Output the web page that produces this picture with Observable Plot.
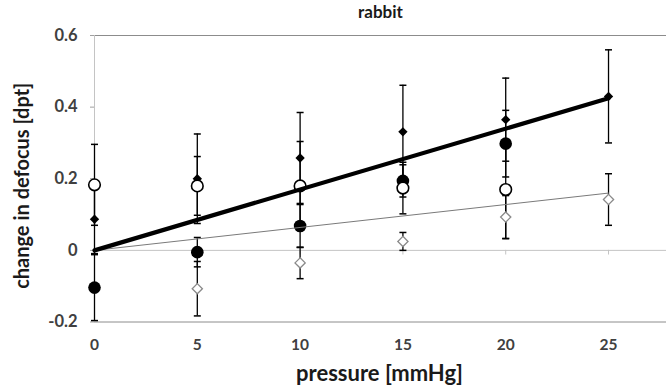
<!DOCTYPE html>
<html><head><meta charset="utf-8">
<script src="https://cdn.jsdelivr.net/npm/d3@7"></script>
<script src="https://cdn.jsdelivr.net/npm/@observablehq/plot@0.6"></script>
<style>body{margin:0;background:#fff}</style>
</head><body><div id="chart"></div>
<script>
const title = "rabbit";
const xLabel = "pressure [mmHg]";
const yLabel = "change in defocus [dpt]";
const pressure = [0, 5, 10, 15, 20, 25];
const xTicks = [0, 5, 10, 15, 20, 25];
const yTicks = [-0.2, 0, 0.2, 0.4, 0.6];

// series values and error bar half-widths (null = no point)
const filledDiamond    = [0.087, 0.200, 0.258, 0.331, 0.365, 0.430];
const filledDiamondErr = [0.096, 0.125, 0.127, 0.130, 0.116, 0.130];
const filledCircle     = [-0.104, -0.005, 0.068, 0.194, 0.298, null];
const filledCircleErr  = [0.092, 0.041, 0.060, 0.045, 0.093, null];
const openCircle       = [0.183, 0.180, 0.180, 0.174, 0.170, null];
const openCircleErr    = [0.113, 0.082, 0.124, 0.072, 0.137, null];
const openDiamond      = [null, -0.107, -0.035, 0.025, 0.093, 0.142];
const openDiamondErr   = [null, 0.076, 0.044, 0.025, 0.060, 0.072];

// linear trend lines through the origin: value reached at 25 mmHg
const trendThickEnd = 0.425;
const trendThinEnd = 0.160;

function rows(vals, errs) {
  const out = [];
  vals.forEach((v, i) => { if (v != null) out.push({x: pressure[i], y: v, e: errs[i]}); });
  return out;
}
const dD = rows(filledDiamond, filledDiamondErr);
const dF = rows(filledCircle, filledCircleErr);
const dO = rows(openCircle, openCircleErr);
const dd = rows(openDiamond, openDiamondErr);
const all = [...dD, ...dF, ...dO, ...dd];

const xMax = pressure[pressure.length - 1];
const thick = [{x: 0, y: 0}, {x: xMax, y: trendThickEnd}];
const thin = [{x: 0, y: 0}, {x: xMax, y: trendThinEnd}];

const cap = {draw(ctx) { ctx.moveTo(-3.5, 0); ctx.lineTo(3.5, 0); }};
const fmt = d => d === 0 ? "0" : String(+d.toFixed(1));

const chart = Plot.plot({
  width: 666, height: 389,
  marginTop: 35, marginBottom: 67.5, marginLeft: 94, marginRight: 0,
  x: {domain: [0, 27.82]},
  y: {domain: [-0.2, 0.6]},
  style: {fontFamily: "Lato, sans-serif", fontWeight: "bold", background: "#fff", overflow: "visible"},
  marks: [
    Plot.ruleY([0.6, -0.2], {stroke: "#8c8c8c", strokeWidth: 1}),
    Plot.ruleY([0], {stroke: "#c4c4c4"}),
    Plot.ruleX([0], {stroke: "#c4c4c4"}),
    Plot.ruleX(xTicks.filter(d => d > 0), {x: d => d, y1: 0, y2: -0.013, stroke: "#c4c4c4"}),
    Plot.axisY({ticks: yTicks, tickSize: 4, tickPadding: 13, tickFormat: fmt, stroke: "#a0a0a0", fill: "#404040", fontSize: 16.5, fontWeight: "bold", label: null}),
    Plot.axisX({ticks: xTicks, tickSize: 0, tickPadding: 17, fill: "#404040", fontSize: 15.5, fontWeight: "bold", label: null}),
    // error bars
    Plot.ruleX(all, {x: "x", y1: d => d.y - d.e, y2: d => d.y + d.e, stroke: "#000", strokeWidth: 1.3}),
    Plot.dot(all, {x: "x", y: d => d.y + d.e, symbol: cap, stroke: "#000", strokeWidth: 1.5}),
    Plot.dot(all, {x: "x", y: d => d.y - d.e, symbol: cap, stroke: "#000", strokeWidth: 1.5}),
    // markers
    Plot.dot(dD, {x: "x", y: "y", symbol: "diamond2", r: 4.2, fill: "#000", stroke: "none"}),
    Plot.dot(dF, {x: "x", y: "y", symbol: "circle", r: 6.3, fill: "#000", stroke: "none"}),
    Plot.dot(dO, {x: "x", y: "y", symbol: "circle", r: 5.8, fill: "#fff", stroke: "#000", strokeWidth: 1.6}),
    Plot.dot(dd, {x: "x", y: "y", symbol: "diamond2", r: 4.6, fill: "#fff", stroke: "#8a8a8a", strokeWidth: 1.3}),
    // trend lines
    Plot.line(thin, {x: "x", y: "y", stroke: "#7a7a7a", strokeWidth: 1}),
    Plot.line(thick, {x: "x", y: "y", stroke: "#000", strokeWidth: 4.2}),
    // titles
    Plot.text([title], {frameAnchor: "top", lineAnchor: "middle", textAnchor: "middle", dy: -23, fontSize: 17, fontWeight: "bold", fill: "#1a1a1a"}),
    Plot.text([xLabel], {frameAnchor: "bottom", lineAnchor: "middle", textAnchor: "middle", dx: -1, dy: 52, fontSize: 22, fontWeight: "bold", fill: "#1a1a1a"}),
    Plot.text([yLabel], {frameAnchor: "left", lineAnchor: "middle", textAnchor: "middle", dx: -72, dy: 7, rotate: -90, fontSize: 20, fontWeight: "bold", fill: "#1a1a1a"})
  ]
});
document.getElementById("chart").appendChild(chart);
</script>
</body></html>
